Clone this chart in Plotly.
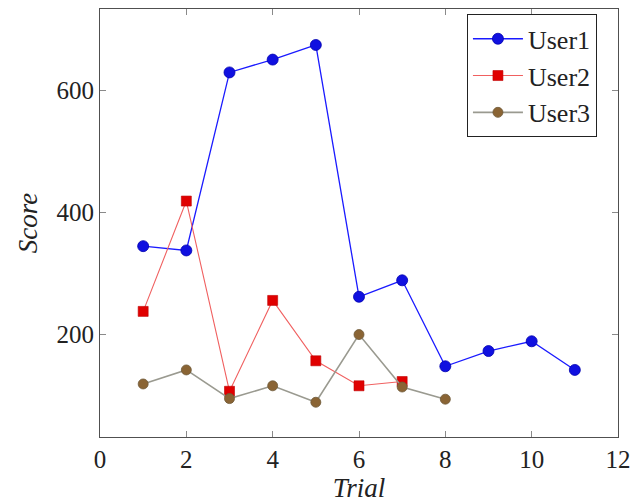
import plotly.graph_objects as go

# Trial numbers and scores per user
trials_user1 = [1, 2, 3, 4, 5, 6, 7, 8, 9, 10, 11]
scores_user1 = [345, 338, 630, 651, 675, 262, 289, 148, 173, 189, 142]

trials_user2 = [1, 2, 3, 4, 5, 6, 7]
scores_user2 = [238, 419, 107, 256, 157, 116, 123]

trials_user3 = [1, 2, 3, 4, 5, 6, 7, 8]
scores_user3 = [119, 142, 95, 116, 89, 200, 114, 94]

x_ticks = [0, 2, 4, 6, 8, 10, 12]
y_ticks = [200, 400, 600]

serif = "Liberation Serif"

fig = go.Figure()

fig.add_trace(go.Scatter(
    x=trials_user1, y=scores_user1, name="User1", mode="lines+markers",
    line=dict(color="#1a1aff", width=1.3),
    marker=dict(symbol="circle", size=11, color="#1010e0",
                line=dict(color="#0000b0", width=0.8)),
))
fig.add_trace(go.Scatter(
    x=trials_user2, y=scores_user2, name="User2", mode="lines+markers",
    line=dict(color="#f06060", width=1.1),
    marker=dict(symbol="square", size=10, color="#e00000",
                line=dict(color="#c00000", width=0.6)),
))
fig.add_trace(go.Scatter(
    x=trials_user3, y=scores_user3, name="User3", mode="lines+markers",
    line=dict(color="#9a9a90", width=1.6),
    marker=dict(symbol="circle", size=10, color="#8a6434",
                line=dict(color="#6f5a3a", width=0.8)),
))

axis_common = dict(
    showgrid=False, zeroline=False, automargin=False,
    showline=True, linecolor="#505050", linewidth=1.2, mirror="allticks",
    ticks="inside", ticklen=6, tickwidth=1, tickcolor="#8a8a8a",
    ticklabeloverflow="allow",
    tickfont=dict(family=serif, size=25, color="#222222"),
)

fig.update_xaxes(
    range=[0, 12], tickvals=x_ticks, ticktext=[str(v) for v in x_ticks],
    title=dict(text="<i>Trial</i>", font=dict(family=serif, size=27, color="#222222"),
               standoff=6),
    **axis_common,
)
fig.update_yaxes(
    range=[32, 734], tickvals=y_ticks, ticktext=[str(v) for v in y_ticks],
    title=dict(text="<i>Score</i>", font=dict(family=serif, size=27, color="#222222"),
               standoff=10),
    **axis_common,
)

fig.update_layout(
    width=631, height=504,
    margin=dict(l=100, r=13, t=9, b=67),
    paper_bgcolor="white", plot_bgcolor="white",
    font=dict(family=serif),
    showlegend=True,
    legend=dict(
        x=0.708, y=0.988, xanchor="left", yanchor="top",
        bgcolor="white", bordercolor="#222222", borderwidth=1.2,
        font=dict(family=serif, size=26, color="#222222"),
        itemwidth=50, tracegroupgap=0,
    ),
)

fig.write_html("out.html")
